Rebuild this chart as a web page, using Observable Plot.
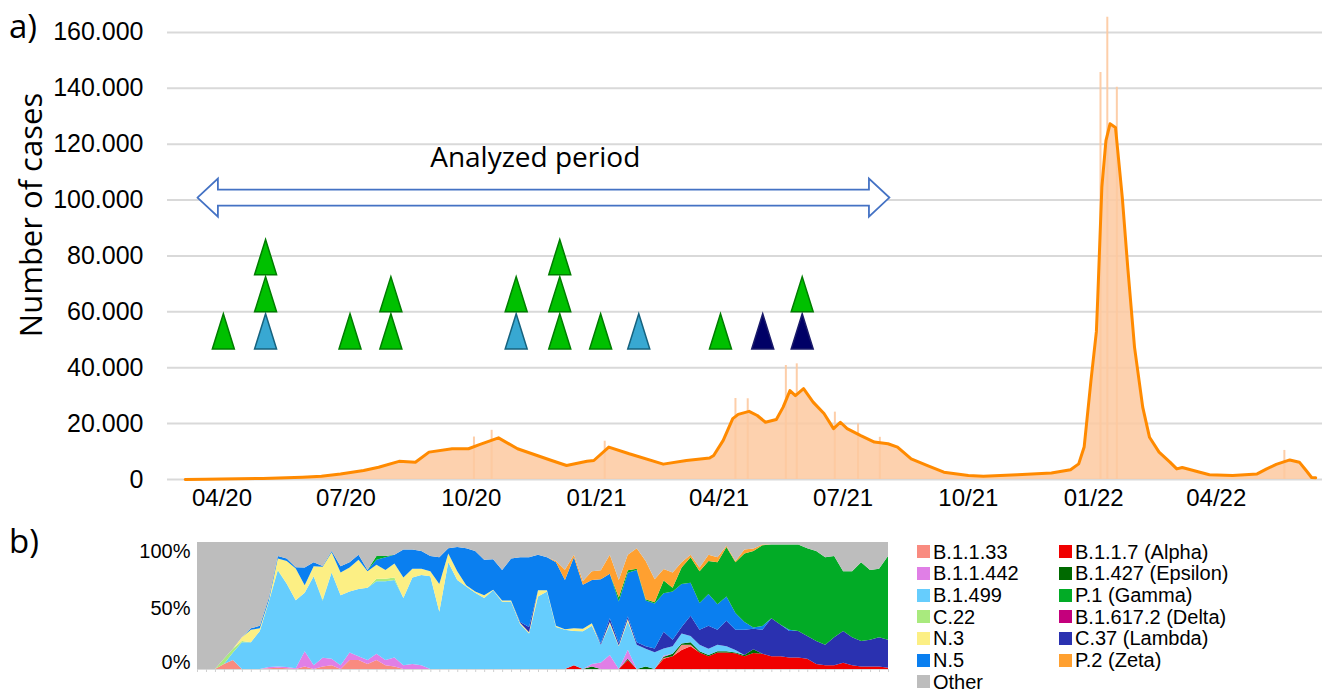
<!DOCTYPE html>
<html>
<head>
<meta charset="utf-8">
<script src="https://cdn.jsdelivr.net/npm/d3@7"></script>
<script src="https://cdn.jsdelivr.net/npm/@observablehq/plot@0.6"></script>
<style>
  body { margin: 0; background: #fff; }
  #wrap { position: relative; width: 1322px; height: 693px; overflow: hidden; background: #fff; }
  .abs { position: absolute; }
  .panel { font-family: 'Open Sans', sans-serif; font-size: 33px; line-height: 1; color: #000; white-space: nowrap; }
  .ytitle { font-family: 'Open Sans', sans-serif; font-size: 31px; line-height: 1; color: #000; white-space: nowrap;
            transform: translate(-50%, -50%) rotate(-90deg); }
  .leg { position: absolute; height: 20px; display: flex; align-items: center; white-space: nowrap;
         font-family: 'Liberation Sans', Arial, sans-serif; font-size: 20px; line-height: 20px; color: #000; }
  .leg span.sw { display: inline-block; width: 13px; height: 13px; margin-right: 3px; }
</style>
</head>
<body>
<div id="wrap"></div>
<script>
// ---------------- DATA: panel a) daily cases ----------------
const caseDates = [
  "2020-03-05","2020-03-20","2020-04-01","2020-05-01","2020-05-30","2020-06-13","2020-06-27","2020-07-14",
  "2020-07-25","2020-08-09","2020-08-21","2020-08-31","2020-09-17","2020-09-29","2020-10-07","2020-10-21",
  "2020-11-04","2020-11-29","2020-12-10","2020-12-25","2020-12-30","2021-01-10","2021-01-25","2021-02-19",
  "2021-03-08","2021-03-25","2021-03-28","2021-04-04","2021-04-11","2021-04-15","2021-04-23","2021-04-29",
  "2021-05-05","2021-05-13","2021-05-18","2021-05-23","2021-05-27","2021-06-02","2021-06-09","2021-06-17",
  "2021-06-24","2021-06-29","2021-07-04","2021-07-14","2021-07-24","2021-08-03","2021-08-10","2021-08-20",
  "2021-09-01","2021-09-13","2021-10-01","2021-10-12","2021-11-06","2021-12-01","2021-12-15","2021-12-21",
  "2021-12-25","2021-12-30","2022-01-03","2022-01-04","2022-01-07","2022-01-10","2022-01-13","2022-01-17",
  "2022-01-22","2022-01-26","2022-01-31","2022-02-06","2022-02-11","2022-02-18","2022-02-26","2022-03-03",
  "2022-03-07","2022-03-20","2022-03-27","2022-04-13","2022-05-01","2022-05-08","2022-05-15","2022-05-25",
  "2022-06-01","2022-06-06","2022-06-10","2022-06-13"
];
const caseAvg = [
  0, 80, 150, 400, 840, 1200, 2000, 3200,
  4400, 6500, 6200, 9800, 11000, 11000, 12500, 14900,
  11000, 6800, 5000, 6500, 6800, 11600, 9200, 5500,
  6800, 7700, 8600, 14000, 21800, 23300, 24400, 22900,
  20500, 21500, 25900, 31800, 30000, 32500, 27700, 23600,
  18200, 20500, 18200, 15700, 13400, 12800, 11600, 7400,
  5000, 2600, 1400, 1200, 1700, 2300, 3500, 5600,
  11600, 35400, 53000, 65200, 104600, 121300, 127300, 126000,
  101000, 76000, 47300, 25900, 15100, 9800, 6200, 3800,
  4300, 2600, 1700, 1400, 2000, 3800, 5400, 7000,
  6200, 3200, 700, 600
];
// tallest single-day bars visible above the average
const spikeDates = ["2020-10-03","2020-10-16","2021-01-07","2021-04-13","2021-04-22","2021-05-20","2021-05-28",
                    "2021-06-25","2021-07-12","2021-07-28","2022-01-06","2022-01-11","2022-01-18","2022-05-21"];
const spikeValues = [15200, 17600, 13700, 29000, 28900, 40800, 41400, 24100, 19900, 15100, 145700, 165400, 140400, 10400];

// markers (triangles)
const triDates = ["2020-04-02","2020-05-03","2020-05-03","2020-05-03","2020-07-04","2020-08-03","2020-08-03",
                  "2020-11-03","2020-11-03","2020-12-05","2020-12-05","2020-12-05","2021-01-04","2021-02-01",
                  "2021-04-02","2021-05-03","2021-06-01","2021-06-01"];
const triValues = [53000, 53000, 66300, 79600, 53000, 53000, 66300,
                   53000, 66300, 53000, 66300, 79600, 53000, 53000,
                   53000, 53000, 53000, 66300];
const triTypes = ["G","B","G","G","G","G","G",
                  "B","G","G","G","G","G","B",
                  "G","N","N","G"];

const analyzedStart = "2020-03-14";
const analyzedEnd = "2021-08-04";
const analyzedLabel = "Analyzed period";

const yTicksA = [0, 20000, 40000, 60000, 80000, 100000, 120000, 140000, 160000];
const xTicksA = ["2020-04-01","2020-07-01","2020-10-01","2021-01-01","2021-04-01","2021-07-01","2021-10-01","2022-01-01","2022-04-01"];

// ---------------- DATA: panel b) variant proportions (%) ----------------
const alpha = [
  0,0,0,0,0,0,0,0,0,0,
  0,0,0,0,0,0,0,0,0,0,
  0,0,0,0,0,0,0,0,0,0,
  0,0,0,0,0,0,0,0,0,0,
  0,0,3,0,0,0,0,0,7,0,
  0,0,8,10,15,18,13,10,13,13,
  12.5,10,12.5,12,10,10,9,9,8,4,
  3,3,5,3,2,2,2,1];
const b1133 = [
  0,0,0,4,7,0,0,0,0.5,1,
  0.5,0,2,0,2,3,0,7,7,4,
  7,3,2,0,0,0,0,0,0,0,
  0,0,0,0,0,0,0,0,0,0,
  0,0,0,0,0,0,0,0,0,0,
  0,0,0.5,0,4,1,0,0,0,0,
  0,0,0,0,0,0,0,0,0,0,
  0,0,0,0,0,0,0,0];
const epsilon = [
  0,0,0,0,0,0,0,0,0,0,
  0,0,0,0,0,0,0,0,0,0,
  0,0,0,0,0,0,0,0,0,0,
  0,0,0,0,0,0,0,0,0,0,
  0,0,0,0,2,0,0,0,1,0,
  2,0,1,2,1,2,1,1,1,1,
  0.5,1,3,0,0,0,0,0,0,0,
  0,0,0,0,0,0,0,0];
const b11442 = [
  0,0,0,0,0,0,0,0,1,1,
  1,0.5,12,3,7,5,3,6,3,3,
  5,4,7,3,4,3,0,0,0,0,
  0,0,0,0,0,0,0,0,0,0,
  0,0,0,0,2,5,11,0,7,0,
  0,0,1,0,0,0,0,0,0,0,
  0,0,0,0,0,0,0,0,0,0,
  0,0,0,0,0,0,0,0];
const b1499 = [
  0,0,0,0,6,21,21,30,51.5,76,
  66,54,46,70,45,68,55,48,53,57,
  57,62,61,53,68,71,73,45,84,70,
  65,60,56,62,53,53,35.5,28,57,61,
  33,31,27,30,30,14,24,18,22,19,
  14,13,5.5,6,8,5,5,5,5,4,
  2,0,0,0,0,0,0,0,0,0,
  0,0,0,0,0,0,0,0];
const c22 = [
  0,0,0,4,3,1,0,0,0,0.5,
  0,0,0,0,1,0,0,0,0,0,
  2,2,2,0,0,0,0,0,0,0,
  0,0,0,0,0,0,0,0,0,0,
  0,0,0,0,0,0,0,0,0,0,
  0,0,0,0,0,0,0,0,0,0,
  0,0,0,0,0,0,0,0,0,0,
  0,0,0,0,0,0,0,0];
const n3 = [
  0,0,0,0,0,3,10,2,1,9,
  18,25,6,8,26,16,18,19,23,13,
  11,7,11,16,7,5,4,22,7,7,
  1,1,2,0.5,1,1,1,1,5,1,
  1,0.5,2,2,2,0,2,0.5,2,0,
  0,0,0,0,0,0,0,0,0,0,
  0,0,0,0,0,0,0,0,0,0,
  0,0,0,0,0,0,0,0];
const c37 = [
  0,0,0,0,0,0,0,0,0,0,
  0,0,0,0,0,0,0,0,0,0,
  0,0,0,0,0,0,0,0,0,0,
  0,0,0,0,0,0,0.5,4,0,0,
  0,0,0,0,0,1,3,2,2,2,
  2,3,13,5,5,16,12,18,12,20,
  16,20,16,19,30,25,21,21,18,18,
  16,22,25,22,20,21,23,22];
const n5 = [
  0,0,0,0,0,0,1,2,2,2,
  2,1,14,3,0.5,1,5,4,4,1,
  4,10,7,22,15,14,12,21,4,19,
  29,32,28,24,24,33,51,55,28,26,
  50,39,56,35,34,50,35,33,34,57,
  36,35,30,38,34,26,21,25,20,19,
  13,6,1,3,0,0,1,0,0,0,
  0,0,0,0,0,0,0,0];
const p1 = [
  0,0,0,0,0,0,0,0,0,0,
  0,0,0,0,0,0,0,0,0,0,
  3,1,0,0,0,0,0,0,0,0,
  0,0,0,0,0,0,0,0,0,0,
  0,0,0,0,0,0,0,3,2,1,
  1,1,10,3,13,20,25,26,33,39,
  40,54,60,64,58,63,67,68,69,71,
  69,64,47,52,62,55,54,66];
const p2 = [
  0,0,0,0,0,0,0,0,0,0,
  0,0,0,0,0,0,0,0,0,0,
  0,0,0,0,0,0,0,0,0,0,
  0,0,0,0,0,0,0,0,0,0,
  1,8,2,3,7,7,15,14,12,16,
  30,18,9,12,4,2,3,5,4,1,
  1,3,2,0.5,0,0,0,0,0,0,
  0,0,0,0,0,0,0,0];
const other = [
  100,100,100,92,84,75,68,66,44,11,
  13,20,20,16,19,7,19,16,10,22,
  11,11,10,6,6,7,11,12,5,4,
  5,7,14,13.5,22,13,12,12,10,12,
  15,22,10,31,23,22,10,30,10,5,
  15,29,21,24,16,10,20,10,12,3,
  15,6,5,2,2,2,2,2,5,7,
  12,11,23,23,16,22,21,11];

const legendCol1 = ["B.1.1.33","B.1.1.442","B.1.499","C.22","N.3","N.5","Other"];
const legendCol2 = ["B.1.1.7 (Alpha)","B.1.427 (Epsilon)","P.1 (Gamma)","B.1.617.2 (Delta)","C.37 (Lambda)","P.2 (Zeta)"];
const variantColors = {
  "B.1.1.33": "#f98b80", "B.1.1.442": "#e07fe6", "B.1.499": "#66cdfd", "C.22": "#a9ea7e",
  "N.3": "#fcef84", "N.5": "#0a7ff0", "Other": "#bdbdbd",
  "B.1.1.7 (Alpha)": "#f00000", "B.1.427 (Epsilon)": "#006a00", "P.1 (Gamma)": "#02ab26",
  "B.1.617.2 (Delta)": "#c4007c", "C.37 (Lambda)": "#2a31b0", "P.2 (Zeta)": "#ffa030"
};
// stacking order, bottom to top
const stackNames = ["B.1.1.7 (Alpha)","B.1.1.33","B.1.427 (Epsilon)","B.1.1.442","B.1.499","C.22","N.3",
                    "C.37 (Lambda)","N.5","P.1 (Gamma)","P.2 (Zeta)","Other"];
const stackValues = [alpha, b1133, epsilon, b11442, b1499, c22, n3, c37, n5, p1, p2, other];

// ---------------- BUILD ----------------
const parse = d3.utcParse("%Y-%m-%d");
const wrap = document.getElementById("wrap");

const cases = caseDates.map((d, i) => ({date: parse(d), value: caseAvg[i]}));
const spikes = spikeDates.map((d, i) => ({date: parse(d), value: spikeValues[i]}));
const tris = triDates.map((d, i) => ({date: parse(d), value: triValues[i], type: triTypes[i]}));
const triFill = {G: "#00c000", B: "#38a8d2", N: "#000066"};
const triStroke = {G: "#007d00", B: "#16627e", N: "#1a1a6a"};

const tallTriangle = {
  draw(context, size) {
    const r = Math.sqrt(size / Math.PI);
    const w = r, h = r * 3.2;
    context.moveTo(0, -h / 2);
    context.lineTo(w, h / 2);
    context.lineTo(-w, h / 2);
    context.closePath();
  }
};

// hollow double-headed arrow for the analyzed period
const day = 864e5;
const aS = parse(analyzedStart), aE = parse(analyzedEnd);
const aY = 100900, shaft = 2860, head = 6800, headLen = 15 * day;
const arrowPts = [
  [aS, aY], [new Date(+aS + headLen), aY + head], [new Date(+aS + headLen), aY + shaft],
  [new Date(+aE - headLen), aY + shaft], [new Date(+aE - headLen), aY + head], [aE, aY],
  [new Date(+aE - headLen), aY - head], [new Date(+aE - headLen), aY - shaft],
  [new Date(+aS + headLen), aY - shaft], [new Date(+aS + headLen), aY - head], [aS, aY]
].map(([x, y]) => ({x, y}));
const labelDatum = [{date: new Date((+aS + +aE) / 2 - 6 * day), value: 115000, text: analyzedLabel}];

const dotFmt = d => d3.format(",")(d).replace(/,/g, ".");

const topPlot = Plot.plot({
  width: 1322, height: 515,
  marginLeft: 167, marginRight: 0, marginTop: 4, marginBottom: 36,
  x: {type: "utc", domain: [parse("2020-02-21"), parse("2022-06-18")]},
  y: {domain: [0, 170000]},
  color: {type: "identity"},
  style: {fontFamily: "'Liberation Sans', Arial, sans-serif", fontSize: "24px", color: "#000", background: "transparent"},
  marks: [
    Plot.gridY(yTicksA, {stroke: "#d9d9d9", strokeOpacity: 1, strokeWidth: 2}),
    Plot.axisY({ticks: yTicksA, tickSize: 0, tickPadding: 24, tickFormat: dotFmt, label: null, fontSize: 25}),
    Plot.axisX({ticks: xTicksA.map(parse), tickSize: 0, tickPadding: 9, tickFormat: d3.utcFormat("%m/%y"), label: null, fontSize: 24}),
    Plot.areaY(cases, {x: "date", y: "value", fill: "#fdc9a0", fillOpacity: 0.85}),
    Plot.ruleX(spikes, {x: "date", y1: 0, y2: "value", stroke: "#fdc9a0", strokeWidth: 2, strokeOpacity: 0.9}),
    Plot.line(cases, {x: "date", y: "value", stroke: "#ff8a00", strokeWidth: 3}),
    Plot.line(arrowPts, {x: "x", y: "y", fill: "white", stroke: "#4472c4", strokeWidth: 1.8,
                         strokeLinejoin: "miter", strokeMiterlimit: 10}),
    Plot.text(labelDatum, {x: "date", y: "value", text: "text", fontFamily: "'Open Sans', sans-serif",
                           fontSize: 28, fill: "#000", textAnchor: "middle"}),
    Plot.dot(tris, {x: "date", y: "value", symbol: tallTriangle, r: 11,
                    fill: d => triFill[d.type], stroke: d => triStroke[d.type], strokeWidth: 1.5})
  ]
});
topPlot.style.position = "absolute";
topPlot.style.left = "0px";
topPlot.style.top = "0px";
wrap.appendChild(topPlot);

// panel b
const nPts = alpha.length;
const longData = stackNames.flatMap((s, k) => stackValues[k].map((v, i) => ({i, s, v})));
const allNames = legendCol1.concat(legendCol2);
const pctFmt = d3.format(".0%");
const yAxisB = (t, dy) => Plot.axisY({ticks: [t], tickFormat: pctFmt, tickSize: 0, tickPadding: 7, label: null, fontSize: 20, dy});

const bottomPlot = Plot.plot({
  width: 900, height: 178,
  marginLeft: 197, marginRight: 12, marginTop: 27, marginBottom: 24,
  x: {domain: [0, nPts - 1]},
  y: {domain: [0, 1]},
  color: {domain: allNames, range: allNames.map(n => variantColors[n])},
  style: {fontFamily: "'Liberation Sans', Arial, sans-serif", fontSize: "20px", color: "#000", background: "transparent"},
  marks: [
    Plot.areaY(longData, Plot.stackY({x: "i", y: "v", z: "s", fill: "s", order: stackNames, offset: "normalize"})),
    Plot.ruleY([0], {stroke: "#d9d9d9", strokeWidth: 1}),
    Plot.axisX({ticks: d3.range(nPts), tickFormat: () => "", tickSize: 3, stroke: "#d0d0d0", label: null}),
    yAxisB(1, 9),
    yAxisB(0.5, 3),
    yAxisB(0, -7)
  ]
});
bottomPlot.style.position = "absolute";
bottomPlot.style.left = "0px";
bottomPlot.style.top = "515px";
wrap.appendChild(bottomPlot);

// panel labels & axis title
function addDiv(cls, text, left, top) {
  const d = document.createElement("div");
  d.className = cls + " abs";
  d.textContent = text;
  d.style.left = left + "px";
  d.style.top = top + "px";
  wrap.appendChild(d);
  return d;
}
addDiv("panel", "a)", 9, 9);
addDiv("panel", "b)", 9, 524);
addDiv("ytitle", "Number of cases", 30, 215);

// legend
function addLegend(names, left) {
  names.forEach((n, k) => {
    const d = document.createElement("div");
    d.className = "leg";
    d.style.left = left + "px";
    d.style.top = (551.7 + k * 21.66 - 10) + "px";
    const sw = document.createElement("span");
    sw.className = "sw";
    sw.style.background = variantColors[n];
    d.appendChild(sw);
    d.appendChild(document.createTextNode(n));
    wrap.appendChild(d);
  });
}
addLegend(legendCol1, 917);
addLegend(legendCol2, 1059);
</script>
</body>
</html>
